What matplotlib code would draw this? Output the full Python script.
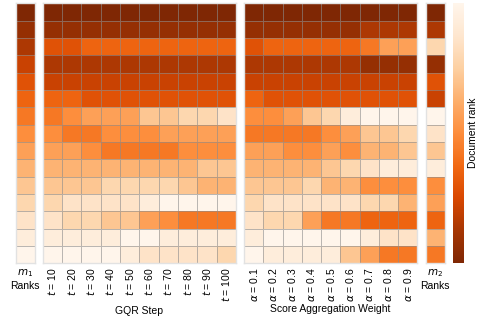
import numpy as np
import matplotlib
matplotlib.use('Agg')
import matplotlib.pyplot as plt

plt.rcParams['font.family'] = ['Liberation Sans', 'DejaVu Sans']
plt.rcParams['mathtext.fontset'] = 'dejavusans'

# ranks of 15 documents (rows), one list per column
m1_ranks = [1, 2, 3, 4, 5, 6, 7, 8, 9, 10, 11, 12, 13, 14, 15]

gqr_steps = [10, 20, 30, 40, 50, 60, 70, 80, 90, 100]
gqr_ranks = [
    [1, 2, 5, 3, 4, 6, 7, 8, 9, 10, 11, 12, 13, 14, 15],
    [1, 2, 5, 3, 4, 6, 8, 7, 9, 10, 11, 13, 12, 14, 15],
    [1, 2, 6, 3, 4, 5, 9, 7, 8, 10, 11, 13, 12, 14, 15],
    [1, 2, 6, 3, 4, 5, 9, 8, 7, 10, 12, 13, 11, 14, 15],
    [1, 2, 6, 3, 4, 5, 9, 8, 7, 10, 12, 13, 11, 15, 14],
    [1, 2, 6, 3, 4, 5, 11, 8, 7, 10, 12, 14, 9, 15, 13],
    [1, 2, 6, 3, 4, 5, 11, 9, 7, 10, 12, 15, 8, 14, 13],
    [1, 2, 6, 3, 4, 5, 12, 9, 8, 10, 11, 15, 7, 14, 13],
    [1, 2, 6, 3, 4, 5, 12, 9, 8, 11, 10, 15, 7, 14, 13],
    [1, 2, 6, 3, 4, 5, 13, 9, 8, 11, 10, 15, 7, 14, 12],
]

alphas = ['0.1', '0.2', '0.3', '0.4', '0.5', '0.6', '0.7', '0.8', '0.9']
alpha_ranks = [
    [1, 2, 5, 3, 4, 6, 8, 7, 9, 10, 11, 12, 13, 14, 15],
    [1, 2, 6, 3, 4, 5, 8, 7, 9, 10, 11, 13, 12, 15, 14],
    [1, 2, 6, 3, 4, 5, 9, 7, 8, 10, 11, 13, 12, 15, 14],
    [1, 2, 6, 3, 4, 5, 11, 7, 8, 10, 12, 13, 9, 15, 14],
    [1, 2, 6, 3, 4, 5, 12, 8, 9, 11, 10, 13, 7, 15, 14],
    [1, 2, 6, 3, 4, 5, 14, 9, 8, 12, 10, 13, 7, 15, 11],
    [1, 3, 7, 2, 4, 5, 15, 11, 10, 13, 8, 12, 6, 14, 9],
    [1, 3, 9, 2, 4, 5, 15, 11, 10, 14, 8, 12, 6, 13, 7],
    [1, 3, 9, 2, 4, 5, 15, 12, 11, 14, 8, 10, 6, 13, 7],
]

m2_ranks = [1, 3, 12, 2, 5, 4, 15, 13, 11, 14, 8, 9, 6, 10, 7]

cmap = 'Oranges_r'
vmin, vmax = 1, 15
fs = 7.5

fig = plt.figure(figsize=(4.78, 3.19), dpi=100)

W, H = 478.0, 319.0
bottom = 1 - 263.3 / H
height = 260.0 / H


def make_ax(x0, x1):
    return fig.add_axes([x0 / W, bottom, (x1 - x0) / W, height])


def draw(ax, cols):
    data = np.array(cols, dtype=float).T
    mesh = ax.pcolormesh(data, cmap=cmap, vmin=vmin, vmax=vmax,
                         edgecolors=(0.55, 0.55, 0.55, 0.6), linewidth=0.7)
    ax.set_xlim(0, data.shape[1])
    ax.set_ylim(data.shape[0], 0)
    ax.set_yticks([])
    ax.set_xticks(np.arange(data.shape[1]) + 0.5)
    ax.tick_params(axis='x', length=0, pad=3, labelsize=fs)
    for s in ax.spines.values():
        s.set_color('#e2e2e2')
        s.set_linewidth(1.0)
    return mesh


ax1 = make_ax(15.7, 35.0)
mesh = draw(ax1, [m1_ranks])
ax1.set_xticklabels(['$m_1$\nRanks'])

ax2 = make_ax(42.7, 236.0)
draw(ax2, gqr_ranks)
ax2.set_xticklabels([f'$t$ = {t}' for t in gqr_steps], rotation=90)
ax2.set_xlabel('GQR Step', fontsize=fs, labelpad=3)

ax3 = make_ax(244.0, 417.3)
draw(ax3, alpha_ranks)
ax3.set_xticklabels([rf'$\alpha$ = {a}' for a in alphas], rotation=90)
ax3.set_xlabel('Score Aggregation Weight', fontsize=fs, labelpad=1)

ax4 = make_ax(425.7, 445.0)
draw(ax4, [m2_ranks])
ax4.set_xticklabels(['$m_2$\nRanks'])

cax = make_ax(453.0, 464.3)
cb = fig.colorbar(mesh, cax=cax)
cb.outline.set_visible(False)
cb.set_ticks([])
cb.set_label('Document rank', fontsize=fs, labelpad=3)

fig.savefig('out.png', dpi=100)
